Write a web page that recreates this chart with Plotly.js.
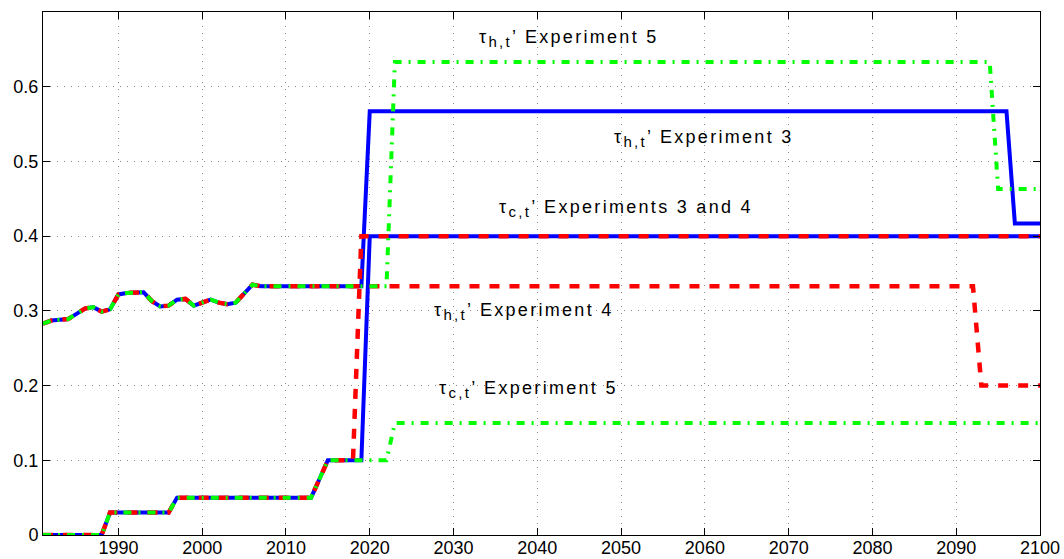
<!DOCTYPE html>
<html>
<head>
<meta charset="utf-8">
<script src="https://cdn.plot.ly/plotly-3.0.1.min.js"></script>
<style>
  html, body { margin: 0; padding: 0; background: #fff; }
  #chart { width: 1064px; height: 559px; }
  .annotation-text { letter-spacing: 2.3px; }
</style>
</head>
<body>
<div id="chart"></div>
<script>
// ---- Data ----
// Shared history of tau_h, yearly
const histYears = [1981,1982,1983,1984,1985,1986,1987,1988,1989,1990,1991,1992,1993,1994,1995,1996,1997,1998,1999,2000,2001,2002,2003,2004,2005,2006,2007];
const histTauH  = [0.283,0.287,0.288,0.289,0.296,0.303,0.305,0.299,0.302,0.322,0.324,0.324,0.325,0.313,0.306,0.307,0.315,0.316,0.307,0.311,0.315,0.311,0.309,0.311,0.324,0.335,0.333];
// Shared history of tau_c
const histCYears = [1981,1988,1989,1996,1997,2013,2014,2015];
const histTauC   = [0,0,0.03,0.03,0.05,0.05,0.075,0.1];

// Experiment 3
const exp3HYears = [2019,2020,2096,2097,2100];
const exp3H      = [0.333,0.567,0.567,0.417,0.417];
const exp3CYears = [2019,2020,2100];
const exp3C      = [0.1,0.4,0.4];
// Experiment 4
const exp4HYears = [2092,2093,2100];
const exp4H      = [0.333,0.2,0.2];
const exp4CYears = [2018,2019,2100];
const exp4C      = [0.1,0.4,0.4];
// Experiment 5
const exp5HYears = [2022,2023,2094,2095,2100];
const exp5H      = [0.333,0.633,0.633,0.463,0.463];
const exp5CYears = [2022,2023,2100];
const exp5C      = [0.1,0.15,0.15];

const xTicks = [1990,2000,2010,2020,2030,2040,2050,2060,2070,2080,2090,2100];
const yTicks = [0,0.1,0.2,0.3,0.4,0.5,0.6];

const SUB = s => '<sub><span style="font-size:15px">' + s + '</span></sub>';
const labels = [
  {text: 'τ' + SUB('h,t') + '’ Experiment 5', x: 2032.8, y: 0.669},
  {text: 'τ' + SUB('h,t') + '’ Experiment 3', x: 2048.9, y: 0.535},
  {text: 'τ' + SUB('c,t') + '’ Experiments 3 and 4', x: 2035.2, y: 0.441},
  {text: 'τ' + SUB('h,t') + '’ Experiment 4', x: 2027.4, y: 0.303},
  {text: 'τ' + SUB('c,t') + '’ Experiment 5', x: 2028.0, y: 0.199}
];

// ---- Build traces ----
function series(hx, hy, px, py) { return {x: hx.concat(px), y: hy.concat(py)}; }

const styles = {
  e3: {color: '#0000FF', width: 4, dash: 'solid'},
  e4: {color: '#FF0000', width: 4.5, dash: '10px,10px'},
  e5: {color: '#00FF00', width: 4, dash: '8px,7px,2px,7px'}
};

const defs = [
  ['e3', series(histYears, histTauH, exp3HYears, exp3H)],
  ['e3', series(histCYears, histTauC, exp3CYears, exp3C)],
  ['e4', series(histYears, histTauH, exp4HYears, exp4H)],
  ['e4', series(histCYears, histTauC, exp4CYears, exp4C)],
  ['e5', series(histYears, histTauH, exp5HYears, exp5H)],
  ['e5', series(histCYears, histTauC, exp5CYears, exp5C)]
];

const traces = defs.map(([k, s]) => ({
  type: 'scatter', mode: 'lines', x: s.x, y: s.y,
  line: Object.assign({}, styles[k]),
  hoverinfo: 'skip', showlegend: false
}));

const axisCommon = {
  showline: true, linecolor: '#000', linewidth: 1, mirror: 'ticks',
  ticks: 'inside', ticklen: 7, tickcolor: '#000', tickwidth: 1,
  showgrid: true, gridcolor: '#888', gridwidth: 1, griddash: '1px,6px',
  zeroline: false,
  tickfont: {family: 'Liberation Sans, Arial, sans-serif', size: 18, color: '#000'}
};

const layout = {
  width: 1064, height: 559,
  margin: {l: 43, r: 24, t: 12, b: 24},
  paper_bgcolor: '#fff', plot_bgcolor: '#fff',
  xaxis: Object.assign({}, axisCommon, {range: [1981, 2100], tickvals: xTicks, ticktext: xTicks.map(String), ticklabelstandoff: -4}),
  yaxis: Object.assign({}, axisCommon, {range: [0, 0.7], tickvals: yTicks, ticktext: yTicks.map(v => String(v))}),
  annotations: labels.map(l => ({
    text: l.text, x: l.x, y: l.y, xref: 'x', yref: 'y',
    xanchor: 'left', yanchor: 'middle', showarrow: false, yshift: -3,
    font: {family: 'Liberation Sans, Arial, sans-serif', size: 18, color: '#000'}
  }))
};

Plotly.newPlot('chart', traces, layout, {staticPlot: true, displayModeBar: false});
</script>
</body>
</html>
